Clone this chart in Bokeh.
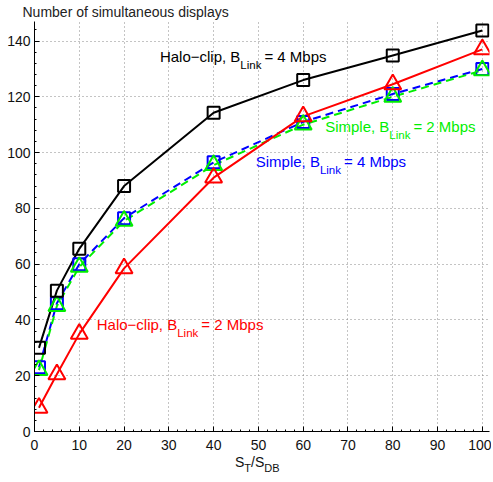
from bokeh.plotting import figure
from bokeh.models import Label, Range1d, FixedTicker, Div
from bokeh.layouts import column
from bokeh.embed import file_html
from bokeh.resources import INLINE

# ---------------- data ----------------
ratio = [1, 5, 10, 20, 40, 60, 80, 100]
halo_4mbps = [30, 50.5, 65.5, 88, 114.3, 126, 134.8, 143.8]
halo_2mbps = [8.5, 20.5, 35, 58.5, 91, 113, 124.5, 137]
simple_4mbps = [23, 46, 60, 76.5, 96.5, 111, 121, 130]
simple_2mbps = [22, 45, 59, 75.5, 95.5, 110, 120, 129.5]
y_ticks = [0, 20, 40, 60, 80, 100, 120, 140]
x_ticks = [0, 10, 20, 30, 40, 50, 60, 70, 80, 90, 100]

FONT = "Liberation Sans"

# Arial / Liberation Sans advance widths (per 1000 em)
W = {' ': 278, ',': 278, '-': 333, '\u2212': 584, '=': 584, '/': 278,
     'H': 722, 'B': 667, 'L': 556, 'M': 833, 'S': 667, 'T': 611, 'D': 722,
     'a': 556, 'b': 556, 'c': 500, 'e': 556, 'i': 222, 'k': 500, 'l': 222,
     'm': 833, 'n': 556, 'o': 556, 'p': 556, 's': 500}
for d in "0123456789":
    W[d] = 556


def text_width(s, size):
    return sum(W.get(ch, 556) for ch in s) * size / 1000.0


p = figure(width=491, height=452, output_backend="svg", toolbar_location=None,
           x_range=Range1d(0, 101.6), y_range=Range1d(0, 147),
           min_border_left=34, min_border_right=2, min_border_top=20,
           min_border_bottom=20)
p.outline_line_color = None
p.background_fill_color = "white"
p.border_fill_color = "white"

# title
p.title.text = "Number of simultaneous displays"
p.title.text_font = FONT
p.title.text_font_size = "14px"
p.title.text_font_style = "normal"
p.title.text_color = "#222222"
p.title.align = "left"
p.title.offset = -12
p.title.standoff = 3

for ax in (p.xaxis, p.yaxis):
    ax.axis_line_color = "black"
    ax.axis_line_width = 1
    ax.major_tick_in = 5
    ax.major_tick_out = 0
    ax.minor_tick_in = 2
    ax.minor_tick_out = 0
    ax.major_tick_line_color = "black"
    ax.minor_tick_line_color = "black"
    ax.major_label_text_font = FONT
    ax.major_label_text_font_size = "14px"
    ax.major_label_text_color = "#111111"
p.xaxis.ticker = FixedTicker(ticks=x_ticks, minor_ticks=[i for i in range(0, 101, 2)])
p.yaxis.ticker = FixedTicker(ticks=y_ticks, minor_ticks=[i for i in range(0, 145, 4)])
p.xaxis.major_label_standoff = 8
p.yaxis.major_label_standoff = 4

for g in (p.xgrid, p.ygrid):
    g.grid_line_color = "#888888"
    g.grid_line_dash = "1 3"
    g.grid_line_width = 1
p.xgrid.ticker = FixedTicker(ticks=x_ticks)
p.ygrid.ticker = FixedTicker(ticks=y_ticks)

# series
p.line(ratio, simple_4mbps, line_color="#0000ff", line_width=2, line_dash="8 5")
p.line(ratio, simple_2mbps, line_color="#00ee00", line_width=2, line_dash="8 5",
       line_dash_offset=4)
p.line(ratio, halo_2mbps, line_color="#ff0000", line_width=2)
p.line(ratio, halo_4mbps, line_color="black", line_width=2)

p.scatter(ratio, simple_4mbps, marker="square", size=12, fill_color=None,
          line_color="#0000ff", line_width=2)
p.scatter(ratio, simple_2mbps, marker="triangle", size=17, fill_color=None,
          line_color="#00ee00", line_width=2)
p.scatter(ratio, halo_2mbps, marker="triangle", size=17, fill_color=None,
          line_color="#ff0000", line_width=2)
p.scatter(ratio, halo_4mbps, marker="square", size=12, fill_color=None,
          line_color="black", line_width=2)


def compound(x, y, parts, color):
    """parts: list of (text, size, is_sub)"""
    off = 0.0
    for txt, size, sub in parts:
        p.add_layout(Label(x=x, y=y, x_offset=off, y_offset=(-8 if sub else 0),
                           text=txt, text_font=FONT, text_font_size=f"{size}px",
                           text_color=color, text_baseline="middle",
                           text_align="left"))
        off += text_width(txt, size) + (3 if sub else 0)


BIG, SMALL = 15, 11.5
compound(28.0, 134.3, [("Halo\u2212clip, B", BIG, False), ("Link", SMALL, True),
                       (" = 4 Mbps", BIG, False)], "black")
compound(64.9, 109.3, [("Simple, B", BIG, False), ("Link", SMALL, True),
                       (" = 2 Mbps", BIG, False)], "#00ee00")
compound(49.4, 96.8, [("Simple, B", BIG, False), ("Link", SMALL, True),
                      (" = 4 Mbps", BIG, False)], "#0000ff")
compound(13.9, 38.2, [("Halo\u2212clip, B", BIG, False), ("Link", SMALL, True),
                      (" = 2 Mbps", BIG, False)], "#ff0000")

# x axis label S_T/S_DB (HTML text below the figure, with real subscripts)
sub = 'font-size:11px;position:relative;top:5px;'
xlabel = Div(text=f'S<span style="{sub}">T</span>/S<span style="{sub}">DB</span>',
             width=120, height=26, margin=(2, 0, 0, 235),
             styles={"font-family": FONT, "font-size": "14px", "color": "#111111",
                     "line-height": "16px"})

layout = column(p, xlabel, spacing=0)
open("out.html", "w").write(file_html(layout, INLINE))
